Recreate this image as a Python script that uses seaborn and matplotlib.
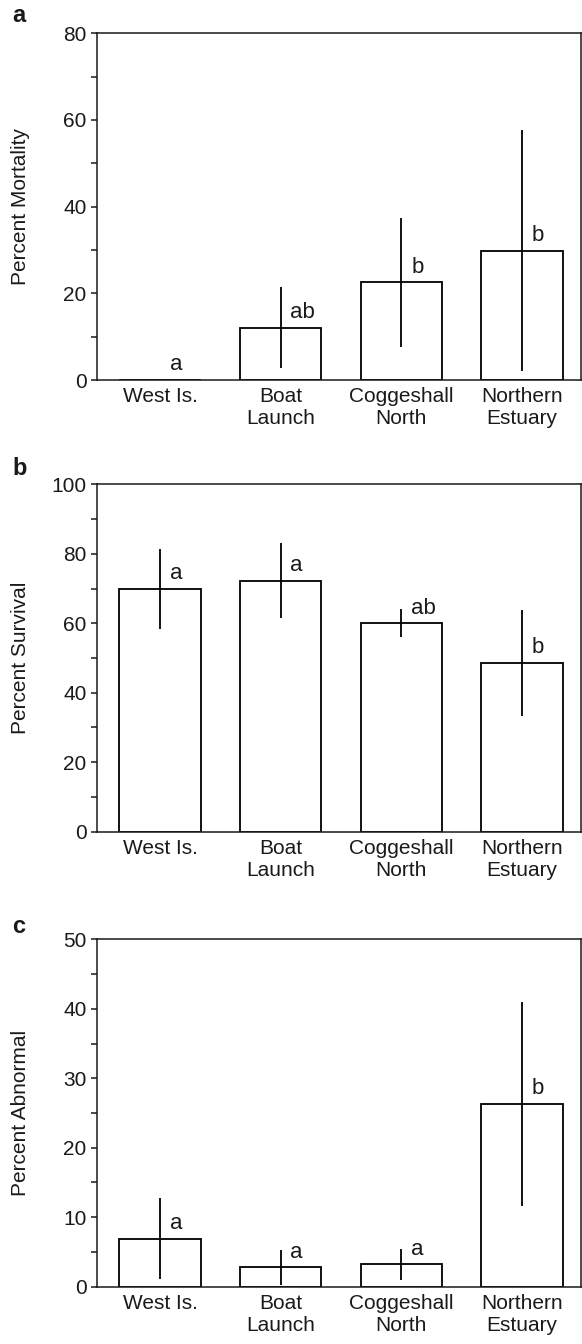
import numpy as np
import pandas as pd
import matplotlib
matplotlib.use("Agg")
import matplotlib.pyplot as plt
import seaborn as sns

sns.set_theme(style="ticks")
plt.rcParams["font.family"] = ["Liberation Sans", "DejaVu Sans"]

# Sites (x categories)
sites = ["West Is.", "Boat\nLaunch", "Coggeshall\nNorth", "Northern\nEstuary"]

# (a) mortality
mortality = [0.0, 12.1, 22.5, 29.8]
mortality_se = [0.0, 9.3, 14.8, 27.8]
mortality_groups = ["a", "ab", "b", "b"]

# (b) survival
survival = [69.8, 72.2, 60.0, 48.6]
survival_se = [11.5, 10.8, 4.0, 15.2]
survival_groups = ["a", "a", "ab", "b"]

# (c) abnormal development
abnormal = [6.9, 2.8, 3.2, 26.3]
abnormal_se = [5.8, 2.5, 2.2, 14.7]
abnormal_groups = ["a", "a", "a", "b"]

panels = [
    dict(tag="a", values=mortality, se=mortality_se, groups=mortality_groups,
         ylabel="Percent Mortality", ymax=80, major=20, minor=10),
    dict(tag="b", values=survival, se=survival_se, groups=survival_groups,
         ylabel="Percent Survival", ymax=100, major=20, minor=10),
    dict(tag="c", values=abnormal, se=abnormal_se, groups=abnormal_groups,
         ylabel="Percent Abnormal", ymax=50, major=10, minor=5),
]

W, H = 582, 1344
fig = plt.figure(figsize=(W / 100, H / 100), dpi=100)

left_px, right_px = 96.7, 581.0
tops = [33.3, 484.3, 939.3]
bottoms = [380.0, 831.7, 1286.7]
tag_baselines = [22.0, 475.0, 933.3]

lw = 1.3
for p, top, bot, tag_y in zip(panels, tops, bottoms, tag_baselines):
    ax = fig.add_axes([left_px / W, 1 - bot / H, (right_px - left_px) / W, (bot - top) / H])
    df = pd.DataFrame({"site": sites, "value": p["values"]})
    sns.barplot(data=df, x="site", y="value", ax=ax, color="white",
                edgecolor="black", linewidth=lw, width=0.674, saturation=1,
                errorbar=None)
    ax.errorbar(np.arange(len(sites)), p["values"], yerr=p["se"], fmt="none",
                ecolor="black", elinewidth=lw, capsize=0, zorder=3)
    for i, (v, g) in enumerate(zip(p["values"], p["groups"])):
        ax.annotate(g, xy=(i, v), xytext=(7, 7), textcoords="offset points",
                    ha="left", va="baseline", fontsize=16, color="#1a1a1a")

    ax.set_xlim(-0.524, 3.488)
    ax.set_ylim(0, p["ymax"])
    ax.set_yticks(np.arange(0, p["ymax"] + 0.1, p["major"]))
    ax.set_yticks(np.arange(p["minor"], p["ymax"], p["major"]), minor=True)
    ax.tick_params(axis="y", which="both", direction="out", length=4.3,
                   width=1.1, pad=3.0, labelsize=15, colors="#1a1a1a")
    ax.tick_params(axis="x", length=0, pad=5, labelsize=15, colors="#1a1a1a")
    ax.set_xlabel("")
    ax.set_ylabel(p["ylabel"], fontsize=15, color="#1a1a1a")
    ax.yaxis.set_label_coords(-0.138, 0.5)
    for s in ax.spines.values():
        s.set_visible(True)
        s.set_linewidth(1.1)
        s.set_color("#1a1a1a")

    fig.text(12 / W, 1 - tag_y / H, p["tag"], ha="left", va="baseline",
             fontsize=17, fontweight="bold", color="#1a1a1a")

fig.savefig("out.png", dpi=100, facecolor="white")
